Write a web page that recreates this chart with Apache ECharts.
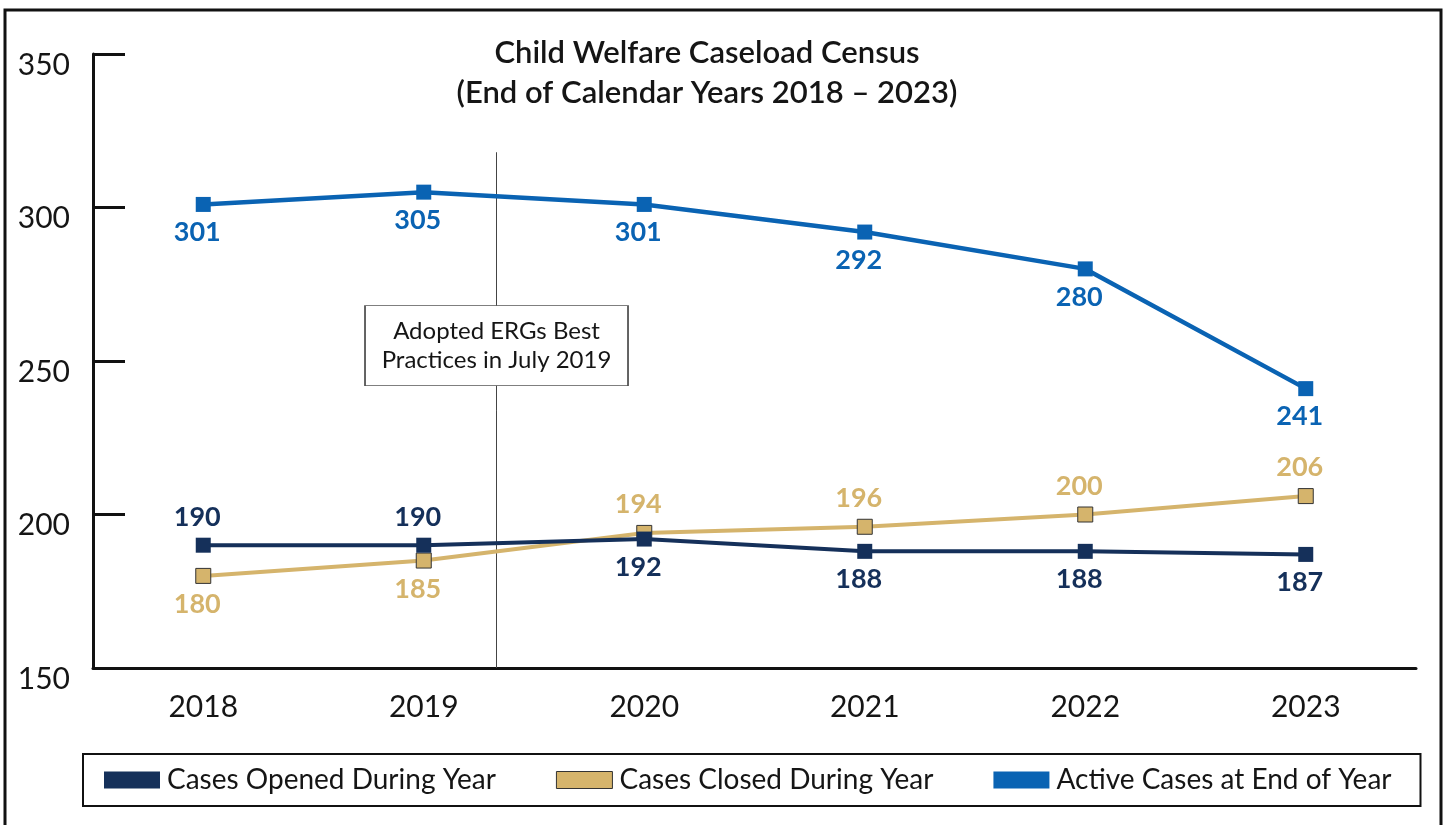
<!DOCTYPE html>
<html>
<head>
<meta charset="utf-8">
<title>Child Welfare Caseload Census</title>
<script src="https://cdn.jsdelivr.net/npm/echarts@6/dist/echarts.min.js"></script>
<style>
  html, body { margin: 0; padding: 0; background: #fff; }
  #chart { width: 1445px; height: 825px; }
</style>
</head>
<body>
<div id="chart"></div>
<script>
// Year categories and yearly counts
const years = ['2018', '2019', '2020', '2021', '2022', '2023'];
const casesOpened = [190, 190, 192, 188, 188, 187];
const casesClosed = [180, 185, 194, 196, 200, 206];
const activeCases = [301, 305, 301, 292, 280, 241];

// Value axis range
const yMin = 150;
const yMax = 350;
const yStep = 50;

// Practice adoption marker on a continuous year scale (each year band spans one unit)
const adoptionAt = 1.83;
const adoptionLineTop = 318;
const adoptionNoteLevel = 255;
const adoptionNote = 'Adopted ERGs Best\nPractices in July 2019';

const NAVY = '#15305a';
const TAN = '#d5b46c';
const BLUE = '#0a63b3';
const INK = '#151515';
const FONT = 'Lato';

// Per-point label sides
const openedSides = ['top', 'top', 'bottom', 'bottom', 'bottom', 'bottom'];
const closedSides = ['bottom', 'bottom', 'top', 'top', 'top', 'top'];

function withLabels(values, sides) {
  return values.map((v, i) => ({ value: v, label: { position: sides ? sides[i] : 'bottom' } }));
}

const labelBase = {
  show: true,
  fontFamily: FONT,
  fontSize: 27,
  fontWeight: 'bold',
  distance: 7,
  offset: [-6, 0]
};

const chart = echarts.init(document.getElementById('chart'), null, { renderer: 'canvas' });

chart.setOption({
  animation: false,
  textStyle: { fontFamily: FONT, color: INK },
  title: {
    text: 'Child Welfare Caseload Census\n(End of Calendar Years 2018 \u2013 2023)',
    left: 702,
    top: 28,
    textAlign: 'center',
    textStyle: { fontFamily: FONT, fontSize: 31, fontWeight: 600, color: INK, lineHeight: 40 }
  },
  graphic: [{
    type: 'rect',
    shape: { x: 5, y: 10, width: 1436, height: 840 },
    style: { fill: 'none', stroke: '#111', lineWidth: 3 },
    silent: true,
    z: -1
  }],
  legend: {
    left: 83,
    top: 754,
    padding: [12, 29, 12, 21],
    itemGap: 60,
    itemWidth: 56,
    itemHeight: 17,
    borderColor: '#111',
    borderWidth: 2,
    icon: 'rect',
    textStyle: { fontFamily: FONT, fontSize: 28, color: INK, padding: [0, 0, 0, 2] },
    data: [
      { name: 'Cases Opened During Year', itemStyle: { color: NAVY, borderWidth: 0 } },
      { name: 'Cases Closed During Year', itemStyle: { color: TAN, borderColor: '#333', borderWidth: 1 } },
      { name: 'Active Cases at End of Year', itemStyle: { color: BLUE, borderWidth: 0 } }
    ]
  },
  grid: { left: 93, right: 29, top: 54, bottom: 157, containLabel: false },
  xAxis: [{
    type: 'category',
    data: years,
    boundaryGap: true,
    axisLine: { lineStyle: { color: '#111', width: 3 } },
    axisTick: { inside: true, length: 16, lineStyle: { color: '#111', width: 3 } },
    axisLabel: { fontFamily: FONT, fontSize: 30, color: INK, margin: 24 },
    splitLine: { show: false }
  }, {
    type: 'value',
    min: 0,
    max: years.length,
    show: false
  }],
  yAxis: {
    type: 'value',
    min: yMin,
    max: yMax,
    interval: yStep,
    axisLine: { show: true, lineStyle: { color: '#111', width: 3 } },
    axisTick: { show: true, inside: true, length: 32, lineStyle: { color: '#111', width: 3 } },
    axisLabel: { fontFamily: FONT, fontSize: 30, color: INK, margin: 23, verticalAlign: 'top', lineHeight: 22 },
    splitLine: { show: false }
  },
  series: [
    {
      // Practice adoption reference line with its note box
      name: 'adoption',
      type: 'line',
      xAxisIndex: 1,
      data: [[adoptionAt, yMin], [adoptionAt, adoptionLineTop]],
      symbol: 'none',
      lineStyle: { color: '#444', width: 1 },
      z: 1,
      silent: true,
      markPoint: {
        symbol: 'rect',
        symbolSize: [263, 80],
        itemStyle: { color: '#fff', borderColor: '#555', borderWidth: 1 },
        label: {
          show: true,
          position: 'inside',
          formatter: adoptionNote,
          fontFamily: FONT,
          fontSize: 24,
          lineHeight: 29,
          color: INK,
          align: 'center'
        },
        data: [{ coord: [adoptionAt, adoptionNoteLevel] }],
        silent: true
      }
    },
    {
      name: 'Cases Opened During Year',
      type: 'line',
      data: withLabels(casesOpened, openedSides),
      symbol: 'rect',
      symbolSize: 15,
      lineStyle: { color: NAVY, width: 4 },
      itemStyle: { color: NAVY },
      label: Object.assign({}, labelBase, { color: NAVY }),
      z: 3
    },
    {
      name: 'Cases Closed During Year',
      type: 'line',
      data: withLabels(casesClosed, closedSides),
      symbol: 'rect',
      symbolSize: 15,
      lineStyle: { color: TAN, width: 4 },
      itemStyle: { color: TAN, borderColor: '#333', borderWidth: 1 },
      label: Object.assign({}, labelBase, { color: TAN }),
      z: 2
    },
    {
      name: 'Active Cases at End of Year',
      type: 'line',
      data: withLabels(activeCases, null),
      symbol: 'rect',
      symbolSize: 15,
      lineStyle: { color: BLUE, width: 4.5 },
      itemStyle: { color: BLUE },
      label: Object.assign({}, labelBase, { color: BLUE }),
      z: 3
    }
  ]
});
</script>
</body>
</html>
